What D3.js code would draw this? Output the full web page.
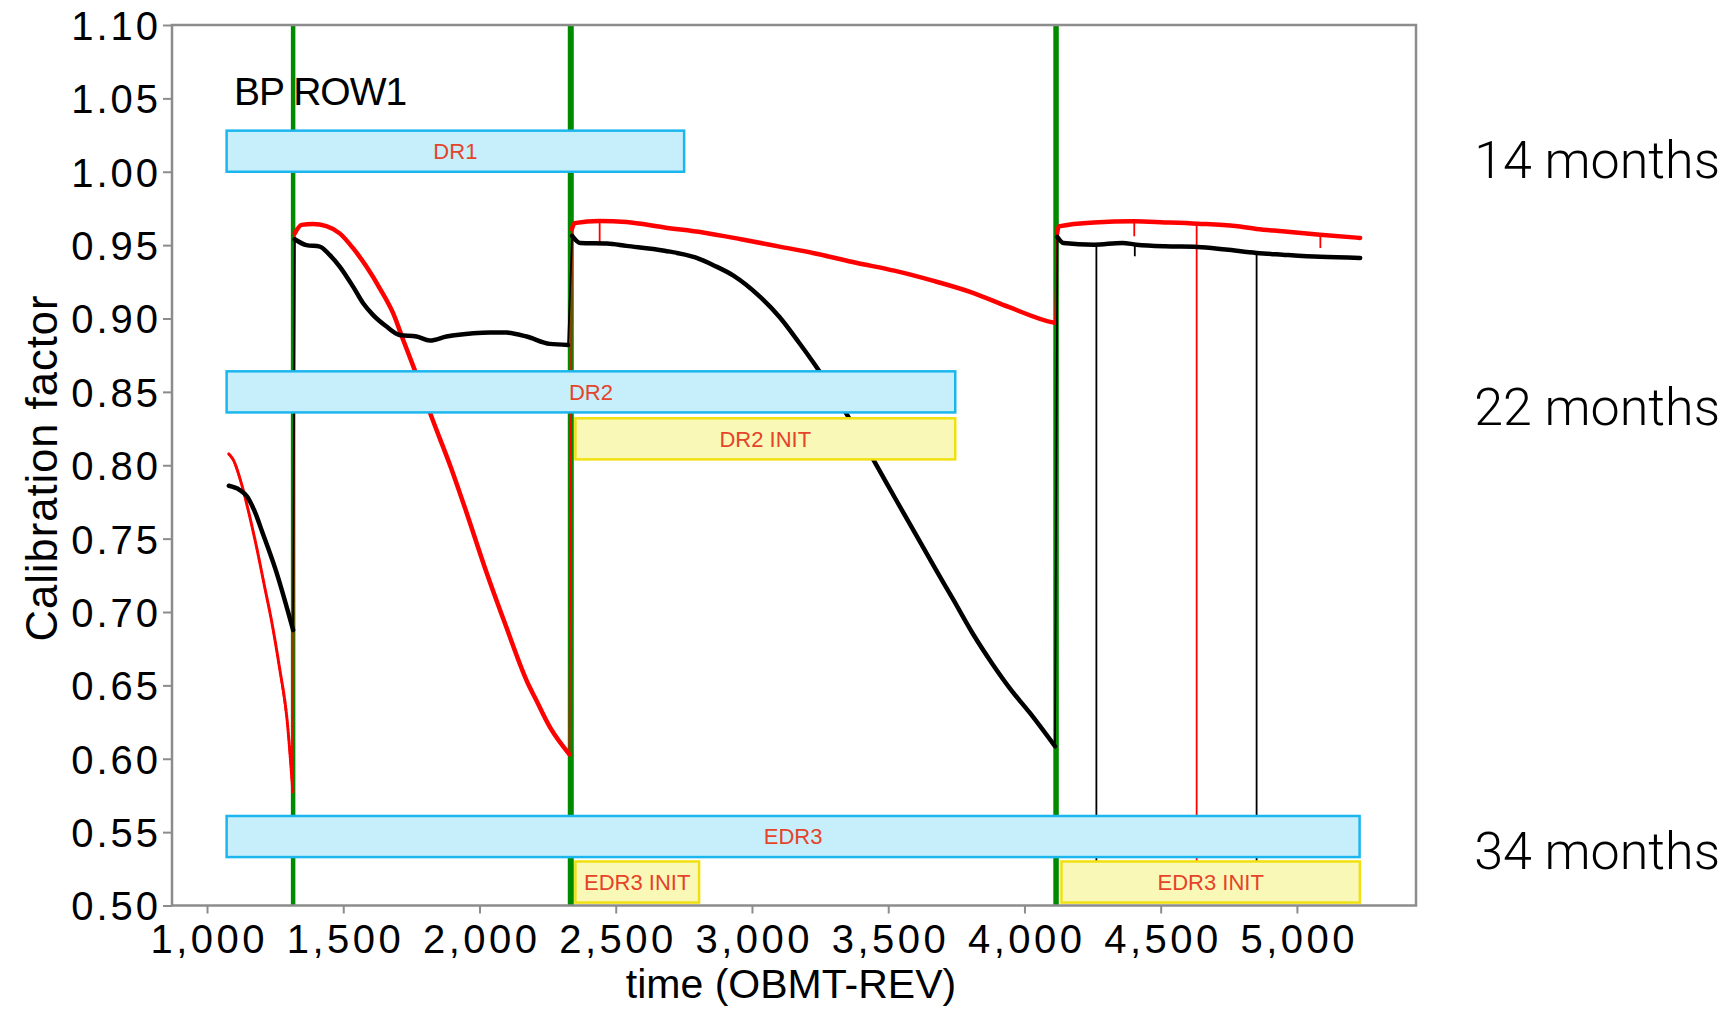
<!DOCTYPE html>
<html>
<head>
<meta charset="utf-8">
<script src="https://cdn.jsdelivr.net/npm/d3@7"></script>
<style>
  body { margin: 0; background: #fff; }
  svg { display: block; }
  text { font-family: "Liberation Sans", Arial, Helvetica, sans-serif; }
</style>
</head>
<body>
<svg id="chart" width="1736" height="1010"></svg>
<script>
// ---- axis ticks ----
const xTicks = [1000, 1500, 2000, 2500, 3000, 3500, 4000, 4500, 5000];
const yTicks = [0.50, 0.55, 0.60, 0.65, 0.70, 0.75, 0.80, 0.85, 0.90, 0.95, 1.00, 1.05, 1.10];

// ---- decontamination events (OBMT-REV) ----
const decontaminations = [1316, 2335, 4116];
const decontaminationWidths = [4.5, 6, 5.5];

// ---- data release / initialisation windows ----
const windowNames  = ["DR1", "DR2", "DR2 INIT", "EDR3", "EDR3 INIT", "EDR3 INIT"];
const windowKinds  = ["release", "release", "init", "release", "init", "init"];
const windowStart  = [1072, 1072, 2352, 1072, 2352, 4136];
const windowEnd    = [2751, 3746, 3746, 5230, 2806, 5231];
const windowLow    = [1.000, 0.836, 0.804, 0.533, 0.502, 0.502];
const windowHigh   = [1.028, 0.864, 0.832, 0.561, 0.530, 0.530];

// ---- mission span annotations ----
const spanLabels = ["14 months", "22 months", "34 months"];
const spanValues = [1.0087, 0.840, 0.5377];

// ---- calibration factor, black series (segments between decontaminations) ----
const blackSegments = [
  [[1080, 0.786], [1119, 0.7833], [1147, 0.7787], [1175, 0.7685], [1203, 0.7544],
   [1252, 0.7287], [1316, 0.6877]],
  [[1322, 0.954], [1365, 0.950], [1414, 0.949], [1450, 0.9433], [1487, 0.9354],
   [1536, 0.9217], [1573, 0.9104], [1609, 0.9025], [1659, 0.8945], [1707, 0.8888],
   [1769, 0.8877], [1818, 0.885], [1879, 0.8877], [1977, 0.890], [2040, 0.8905],
   [2099, 0.8904], [2173, 0.8877], [2258, 0.8827], [2325, 0.882]],
  [[2340, 0.9563], [2370, 0.9514], [2468, 0.9511], [2539, 0.9495], [2679, 0.9462],
   [2792, 0.9416], [2862, 0.936], [2932, 0.9292], [3031, 0.9145], [3101, 0.901],
   [3171, 0.884], [3241, 0.8658], [3347, 0.835], [3446, 0.8036], [3527, 0.777],
   [3598, 0.7539], [3668, 0.7311], [3739, 0.7084], [3809, 0.6857], [3880, 0.6653],
   [3950, 0.6471], [4020, 0.6312], [4112, 0.6085]],
  [[4121, 0.9556], [4143, 0.9515], [4255, 0.9503], [4359, 0.9515], [4411, 0.9503],
   [4515, 0.9492], [4635, 0.9488], [4739, 0.947], [4852, 0.9447], [4947, 0.9435],
   [5085, 0.942], [5232, 0.9413]]
];
// isolated samples: [time, trace value, sample value]
const blackSpikes = [[4264, 0.9503, 0.530], [4405, 0.9503, 0.9424], [4852, 0.9447, 0.530]];

// ---- calibration factor, red series ----
const redSegments = [
  [[1080, 0.8077], [1098, 0.8031], [1126, 0.7877], [1154, 0.7672], [1182, 0.7441],
   [1210, 0.7185], [1238, 0.6928], [1266, 0.6621], [1294, 0.6262], [1315, 0.5774]],
  [[1322, 0.958], [1347, 0.9638], [1389, 0.9644], [1438, 0.963], [1487, 0.958],
   [1536, 0.9479], [1585, 0.9354], [1634, 0.9206], [1683, 0.9036], [1720, 0.8854],
   [1762, 0.865], [1826, 0.832], [1896, 0.798], [1952, 0.768], [2022, 0.729],
   [2092, 0.693], [2176, 0.652], [2204, 0.6415], [2260, 0.621], [2330, 0.603]],
  [[2339, 0.961], [2349, 0.965], [2440, 0.9665], [2539, 0.9658], [2679, 0.962],
   [2820, 0.9586], [2960, 0.954], [3101, 0.949], [3241, 0.944], [3382, 0.938],
   [3522, 0.9326], [3663, 0.9258], [3803, 0.918], [3944, 0.9077], [4099, 0.8975],
   [4112, 0.897]],
  [[4120, 0.958], [4126, 0.9628], [4255, 0.9655], [4402, 0.9662], [4515, 0.9655],
   [4635, 0.9646], [4774, 0.963], [4852, 0.961], [4947, 0.9594], [5085, 0.9571],
   [5232, 0.9549]]
];
const redSpikes = [[2441, 0.966, 0.951], [4403, 0.9662, 0.956], [4632, 0.9646, 0.530], [5086, 0.9571, 0.948]];

// ---- layout ----
const svg = d3.select("#chart");
const plot = { left: 172, right: 1416, top: 25, bottom: 905.5 };
const x = d3.scaleLinear().domain([871.5, 5437]).range([plot.left, plot.right]);
const y = d3.scaleLinear().domain([0.5, 1.1]).range([plot.bottom, plot.top]);

const frameColor = "#8c8c8c";
const labelColor = "#e5432a";
const tickFont = "'Liberation Sans', Arial, sans-serif";

// decontamination markers
svg.append("g").selectAll("line")
  .data(decontaminations)
  .join("line")
  .attr("x1", d => x(d)).attr("x2", d => x(d))
  .attr("y1", y(1.1)).attr("y2", y(0.5))
  .attr("stroke", "#008a00")
  .attr("stroke-width", (d, i) => decontaminationWidths[i]);

// series: thin connector across jumps, thick trace over continuous runs, thin isolated samples
function drawSeries(segments, spikes, color, firstDotted) {
  const g = svg.append("g");
  const straight = d3.line().x(d => x(d[0])).y(d => y(d[1]));
  const smooth = d3.line().x(d => x(d[0])).y(d => y(d[1])).curve(d3.curveMonotoneX);
  g.append("path")
    .attr("d", straight(segments.flat()))
    .attr("fill", "none")
    .attr("stroke", color)
    .attr("stroke-width", 1.8);
  g.selectAll("line.spike")
    .data(spikes)
    .join("line")
    .attr("class", "spike")
    .attr("x1", d => x(d[0])).attr("x2", d => x(d[0]))
    .attr("y1", d => y(d[1])).attr("y2", d => y(d[2]))
    .attr("stroke", color)
    .attr("stroke-width", 1.8);
  g.selectAll("path.run")
    .data(segments)
    .join("path")
    .attr("class", "run")
    .attr("d", d => smooth(d))
    .attr("fill", "none")
    .attr("stroke", color)
    .attr("stroke-width", (d, i) => (firstDotted && i === 0) ? 3 : 4.5)
    .attr("stroke-dasharray", (d, i) => (firstDotted && i === 0) ? "2.2 1.2" : null)
    .attr("stroke-linejoin", "round")
    .attr("stroke-linecap", "round");
}
drawSeries(redSegments, redSpikes, "#ff0000", true);
drawSeries(blackSegments, blackSpikes, "#000000", false);

// release windows
const windows = windowNames.map((name, i) => ({
  name, kind: windowKinds[i], start: windowStart[i], end: windowEnd[i],
  low: windowLow[i], high: windowHigh[i]
}));
const wg = svg.append("g").selectAll("g").data(windows).join("g");
wg.append("rect")
  .attr("x", d => x(d.start))
  .attr("y", d => y(d.high))
  .attr("width", d => x(d.end) - x(d.start))
  .attr("height", d => y(d.low) - y(d.high))
  .attr("fill", d => d.kind === "release" ? "#c6effb" : "#f9f8b6")
  .attr("stroke", d => d.kind === "release" ? "#1cb6ee" : "#f0e010")
  .attr("stroke-width", 2.5);
wg.append("text")
  .attr("x", d => (x(d.start) + x(d.end)) / 2)
  .attr("y", d => (y(d.low) + y(d.high)) / 2)
  .attr("dy", "0.36em")
  .attr("text-anchor", "middle")
  .attr("font-size", 22)
  .attr("fill", labelColor)
  .text(d => d.name);

// frame
svg.append("rect")
  .attr("x", plot.left).attr("y", plot.top)
  .attr("width", plot.right - plot.left)
  .attr("height", plot.bottom - plot.top)
  .attr("fill", "none")
  .attr("stroke", frameColor)
  .attr("stroke-width", 2.5);

// axes
const yAxis = svg.append("g")
  .attr("transform", `translate(${plot.left},0)`)
  .call(d3.axisLeft(y).tickValues(yTicks).tickSize(9).tickFormat(d3.format(".2f")));
yAxis.select(".domain").remove();
yAxis.selectAll(".tick line").attr("stroke", frameColor).attr("stroke-width", 2);
yAxis.selectAll(".tick text")
  .attr("x", -11)
  .attr("dy", "0.36em")
  .attr("font-size", 40)
  .attr("letter-spacing", 3)
  .attr("fill", "#000")
  .style("font-family", tickFont);

const xAxis = svg.append("g")
  .attr("transform", `translate(0,${plot.bottom})`)
  .call(d3.axisBottom(x).tickValues(xTicks).tickSize(8).tickFormat(d3.format(",")));
xAxis.select(".domain").remove();
xAxis.selectAll(".tick line").attr("stroke", frameColor).attr("stroke-width", 2);
xAxis.selectAll(".tick text")
  .attr("y", 47)
  .attr("dy", 0)
  .attr("dx", 1.75)
  .attr("font-size", 40)
  .attr("letter-spacing", 3.5)
  .attr("fill", "#000")
  .style("font-family", tickFont);

// titles
svg.append("text")
  .attr("x", 791).attr("y", 998)
  .attr("text-anchor", "middle")
  .attr("font-size", 41)
  .text("time (OBMT-REV)");

svg.append("text")
  .attr("transform", "translate(57,468) rotate(-90)")
  .attr("text-anchor", "middle")
  .attr("font-size", 43.5)
  .attr("letter-spacing", 1)
  .text("Calibration factor");

svg.append("text")
  .attr("x", 234).attr("y", 105)
  .attr("font-size", 39)
  .attr("letter-spacing", -1)
  .text("BP ROW1");

// mission span annotations
svg.append("g").selectAll("text")
  .data(spanLabels)
  .join("text")
  .attr("x", 1720)
  .attr("y", (d, i) => y(spanValues[i]))
  .attr("dy", "0.36em")
  .attr("text-anchor", "end")
  .attr("font-size", 52)
  .style("font-family", "Roboto, 'Liberation Sans', sans-serif")
  .style("font-weight", 300)
  .text(d => d);
</script>
</body>
</html>
